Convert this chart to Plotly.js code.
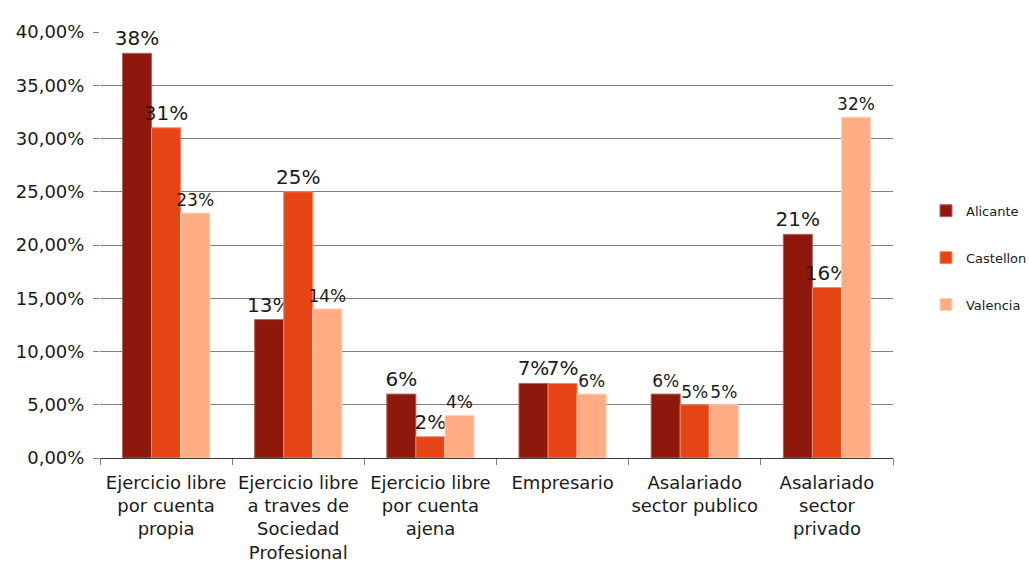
<!DOCTYPE html>
<html>
<head>
<meta charset="utf-8">
<script src="https://cdn.plot.ly/plotly-3.0.1.min.js"></script>
<style>html,body{margin:0;padding:0;background:#fff;}#chart{width:1029px;height:565px;}</style>
</head>
<body>
<div id="chart"></div>
<script>
const categories = [
  "Ejercicio libre<br>por cuenta<br>propia",
  "Ejercicio libre<br>a traves de<br>Sociedad<br>Profesional",
  "Ejercicio libre<br>por cuenta<br>ajena",
  "Empresario",
  "Asalariado<br>sector publico",
  "Asalariado<br>sector<br>privado"
];
const alicante  = [0.38, 0.13, 0.06, 0.07, 0.06, 0.21];
const castellon = [0.31, 0.25, 0.02, 0.07, 0.05, 0.16];
const valencia  = [0.23, 0.14, 0.04, 0.06, 0.05, 0.32];
const seriesNames = ["Alicante", "Castellon", "Valencia"];
const yTicks = [0, 0.05, 0.10, 0.15, 0.20, 0.25, 0.30, 0.35, 0.40];

const FONT = "DejaVu Sans, Liberation Sans, Arial, sans-serif";
const colors = ["#8F180C", "#E64414", "#FEAC84"];
const lineColors = ["#B0665E", "#F08A6A", "#FFD2BC"];
const labelSizes = [
  [20, 20, 20, 20, 17, 20],
  [20, 20, 20, 20, 17, 20],
  [17, 17, 17, 17, 17, 17]
];
const data = [alicante, castellon, valencia].map((vals, i) => ({
  type: "bar",
  name: seriesNames[i],
  x: categories,
  y: vals,
  marker: {color: colors[i], line: {color: lineColors[i], width: 1}},
  texttemplate: "%{y:.0%}",
  textposition: "outside",
  constraintext: "none",
  cliponaxis: false,
  textfont: {family: FONT, size: labelSizes[i], color: "#1a1a1a"},
  hoverinfo: "none",
  legendgroup: "g" + i
}));

const layout = {
  width: 1029, height: 565,
  margin: {l: 100, r: 136, t: 32, b: 107, autoexpand: false},
  paper_bgcolor: "#fff", plot_bgcolor: "#fff",
  separators: ",.",
  barmode: "group",
  bargap: 0.34,
  bargroupgap: 0,
  font: {family: FONT, color: "#1a1a1a"},
  xaxis: {
    showgrid: false,
    showline: true, linecolor: "#3a3a3a", linewidth: 1,
    ticks: "outside", ticklen: 6, tickcolor: "#808080",
    tickson: "boundaries",
    tickangle: 0,
    ticklabelstandoff: 8,
    tickfont: {family: FONT, size: 18, color: "#1a1a1a"},
    fixedrange: true
  },
  yaxis: {
    range: [0, 0.4],
    tickvals: yTicks,
    tickformat: ".2%",
    showgrid: true, gridcolor: "#7f7f7f", gridwidth: 1,
    zeroline: false, showline: false,
    ticks: "outside", ticklen: 6, tickcolor: "#7f7f7f",
    ticklabelstandoff: 5,
    tickfont: {family: FONT, size: 18, color: "#1a1a1a"},
    fixedrange: true
  },
  legend: {
    x: 1.0416, xanchor: "left", y: 0.47, yanchor: "middle",
    font: {family: FONT, size: 13, color: "#1a1a1a"},
    tracegroupgap: 27,
    itemwidth: 30,
    bgcolor: "rgba(0,0,0,0)"
  },
  showlegend: true
};

Plotly.newPlot("chart", data, layout, {displayModeBar: false, staticPlot: true});
</script>
</body>
</html>
